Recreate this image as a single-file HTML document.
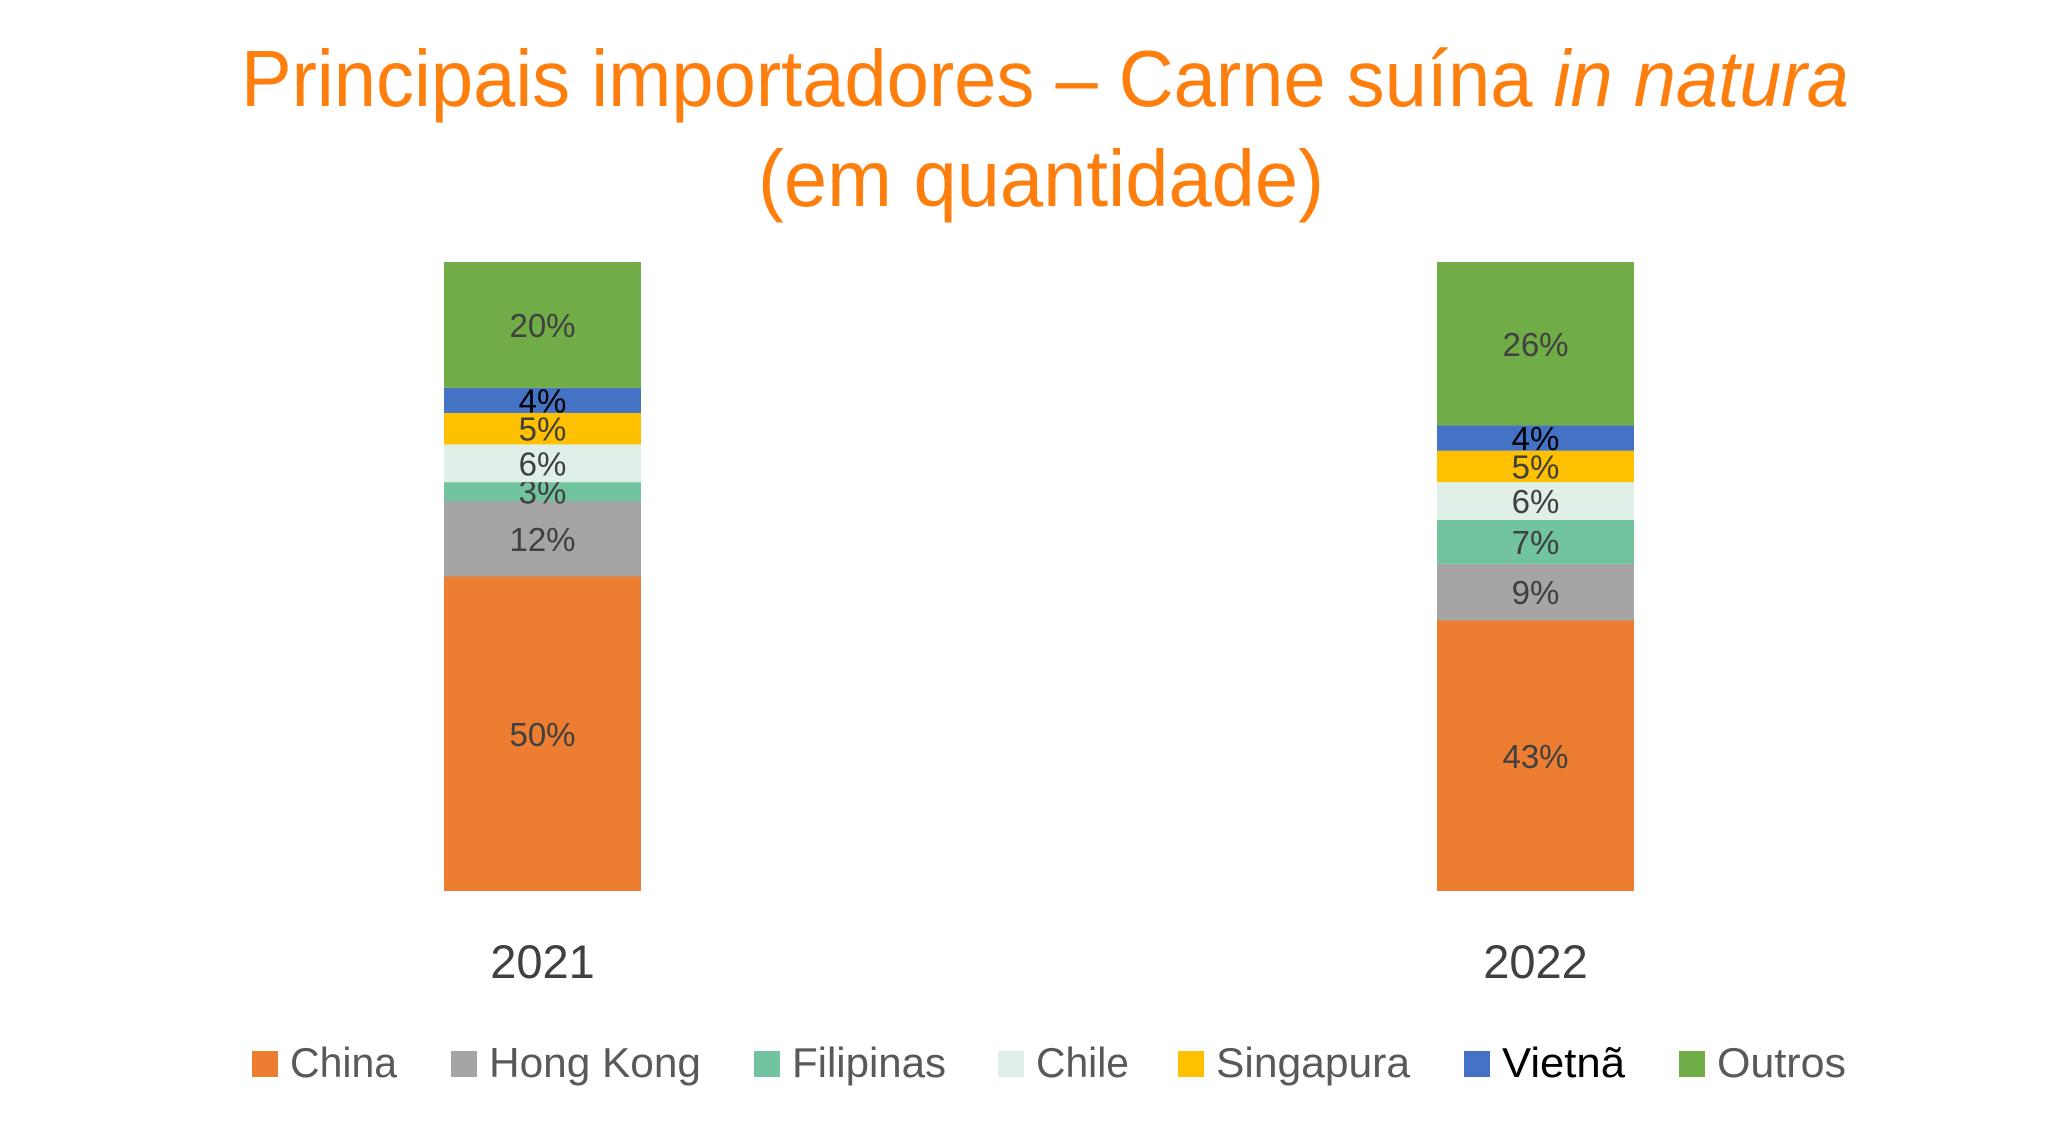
<!DOCTYPE html>
<html><head><meta charset="utf-8"><style>
html,body{margin:0;padding:0;background:#fff;}
svg{display:block;font-family:"Liberation Sans",sans-serif;}
</style></head><body>
<svg id="chart" width="2070" height="1130" viewBox="0 0 2070 1130">
<text x="1045" y="106" text-anchor="middle" font-size="80" fill="#FF7F0E" textLength="1608" lengthAdjust="spacingAndGlyphs">Principais importadores – Carne suína <tspan font-style="italic">in natura</tspan></text>
<text x="1041" y="206" text-anchor="middle" font-size="80" fill="#FF7F0E" textLength="566" lengthAdjust="spacingAndGlyphs">(em quantidade)</text>
<g id="bars"></g>
<g id="legend"></g>
</svg>
<script>
const categories = ["2021", "2022"];
const seriesNames = ["China", "Hong Kong", "Filipinas", "Chile", "Singapura", "Vietnã", "Outros"];
const china = [50, 43];
const hongKong = [12, 9];
const filipinas = [3, 7];
const chile = [6, 6];
const singapura = [5, 5];
const vietna = [4, 4];
const outros = [20, 26];
const seriesValues = [china, hongKong, filipinas, chile, singapura, vietna, outros];
const colors = ["#ED7D31", "#A5A5A5", "#72C49F", "#E0F0E8", "#FFC000", "#4472C4", "#70AD47"];
const labelColors = ["#404040","#404040","#404040","#404040","#404040","#000000","#404040"];

const NS = "http://www.w3.org/2000/svg";
const plotTop = 262, plotBottom = 891;
const catCenters = [542.5, 1535.5];
const barW = 197;
function y(v){ return plotBottom - v / 100 * (plotBottom - plotTop); }
function xCat(i){ return catCenters[i]; }

const bars = document.getElementById("bars");
categories.forEach((c, i) => {
  let cum = 0;
  seriesValues.forEach((arr, s) => {
    const v = arr[i];
    const y0 = y(cum), y1 = y(cum + v);
    const r = document.createElementNS(NS, "rect");
    
    
    r.setAttribute("x", xCat(i) - barW/2);
    r.setAttribute("y", y1);
    r.setAttribute("width", barW);
    r.setAttribute("height", y0 - y1);
    r.setAttribute("fill", colors[s]);
    bars.appendChild(r);
    const t = document.createElementNS(NS, "text");
    
    
    t.setAttribute("x", xCat(i));
    t.setAttribute("y", (y0 + y1)/2 + 12);
    t.setAttribute("text-anchor", "middle");
    t.setAttribute("font-size", "33");
    t.setAttribute("fill", labelColors[s]);
    t.textContent = v + "%";
    bars.appendChild(t);
    cum += v;
  });
  const ct = document.createElementNS(NS, "text");
  
  
  ct.setAttribute("x", xCat(i));
  ct.setAttribute("y", 978);
  ct.setAttribute("text-anchor", "middle");
  ct.setAttribute("font-size", "47");
  ct.setAttribute("fill", "#404040");
  ct.textContent = c;
  bars.appendChild(ct);
});

const legend = document.getElementById("legend");
const legMarkX = [252, 451, 754, 998, 1178, 1464, 1679];
const legTextW = [107, 212, 154, 93, 194, 123, 129];
seriesNames.forEach((n, s) => {
  const g = document.createElementNS(NS, "g");
  
  
  const m = document.createElementNS(NS, "rect");
  m.setAttribute("x", legMarkX[s]); m.setAttribute("y", 1051);
  m.setAttribute("width", 26); m.setAttribute("height", 26);
  m.setAttribute("fill", colors[s]);
  g.appendChild(m);
  const t = document.createElementNS(NS, "text");
  t.setAttribute("x", legMarkX[s] + 38); t.setAttribute("y", 1077);
  t.setAttribute("font-size", "42");
  t.setAttribute("fill", s === 5 ? "#000000" : "#595959");
  t.setAttribute("textLength", legTextW[s]);
  t.setAttribute("lengthAdjust", "spacingAndGlyphs");
  t.textContent = n;
  g.appendChild(t);
  legend.appendChild(g);
});
</script>
</body></html>
